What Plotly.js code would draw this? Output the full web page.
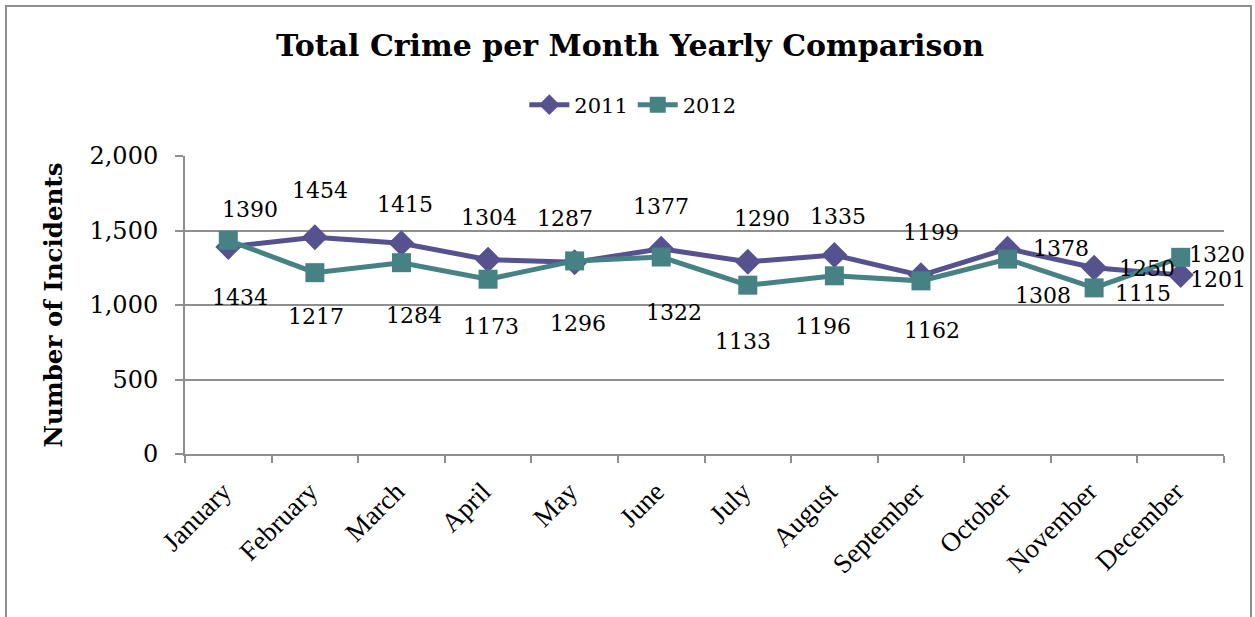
<!DOCTYPE html>
<html>
<head>
<meta charset="utf-8">
<script src="https://cdn.plot.ly/plotly-3.0.1.min.js"></script>
<style>
  html, body { margin:0; padding:0; background:#fff; overflow:hidden; }
  #chart { position:absolute; left:0; top:0; width:1255px; height:617px; }
  #frame { position:absolute; left:5px; top:5px; width:1247px; height:700px;
           border:2px solid #8e8e8e; pointer-events:none; box-sizing:border-box; }
</style>
</head>
<body>
<div id="chart"></div>
<div id="frame"></div>
<script>
const months = ["January","February","March","April","May","June","July","August","September","October","November","December"];
const crimes2011 = [1390,1454,1415,1304,1287,1377,1290,1335,1199,1378,1250,1201];
const crimes2012 = [1434,1217,1284,1173,1296,1322,1133,1196,1162,1308,1115,1320];
const yTicks = [0,500,1000,1500,2000];
const yTickText = ["0","500","1,000","1,500","2,000"];

// label offsets in pixels (dx right, dy down) - layout only
const off2011 = [[22,-37],[5,-47],[4,-39],[1,-42],[-10,-44],[0,-42],[14,-43],[4,-39],[10,-43],[53,0],[53,1],[37,4]];
const off2012 = [[12,57],[1,44],[13,53],[3,47],[3,63],[13,55],[-5,56],[-11,51],[11,50],[35,36],[49,6],[36,-3]];

const c2011 = "#56528f";
const c2012 = "#468284";
const serif = "DejaVu Serif";

const traces = [
  {x: months, y: crimes2011, name: "2011", type: "scatter", mode: "lines+markers",
   line: {color: c2011, width: 5}, marker: {symbol: "diamond", size: 20, color: c2011}},
  {x: months, y: crimes2012, name: "2012", type: "scatter", mode: "lines+markers",
   line: {color: c2012, width: 5}, marker: {symbol: "square", size: 19, color: c2012}}
];

const annotations = [];
months.forEach((m, i) => {
  annotations.push({x: m, y: crimes2011[i], xref: "x", yref: "y", text: String(crimes2011[i]),
    showarrow: false, xshift: off2011[i][0], yshift: -off2011[i][1],
    font: {family: serif, size: 22, color: "#000"}});
  annotations.push({x: m, y: crimes2012[i], xref: "x", yref: "y", text: String(crimes2012[i]),
    showarrow: false, xshift: off2012[i][0], yshift: -off2012[i][1],
    font: {family: serif, size: 22, color: "#000"}});
});

const layout = {
  width: 1255, height: 617,
  margin: {l: 185, r: 31, t: 156, b: 163},
  paper_bgcolor: "#fff", plot_bgcolor: "#fff",
  title: {text: "<b>Total Crime per Month Yearly Comparison</b>", x: 630/1255, xanchor: "center",
          xref: "container", y: 1 - 45/617, yanchor: "middle", yref: "container",
          font: {family: serif, size: 30, color: "#000"}},
  showlegend: true,
  legend: {orientation: "h", x: 0.431, xanchor: "center", y: 1.171, yanchor: "middle",
           font: {family: serif, size: 21, color: "#000"}, itemwidth: 40, traceorder: "normal"},
  xaxis: {type: "category", range: [-0.5, 11.5], tickangle: -45, tickson: "boundaries",
          ticks: "outside", ticklen: 7, tickcolor: "#8e8e8e", tickwidth: 2,
          showline: true, linecolor: "#8e8e8e", linewidth: 2, showgrid: false, zeroline: false,
          ticklabelstandoff: 9, ticklabelshift: -5,
          tickfont: {family: "Liberation Serif", size: 27, color: "#000"}},
  yaxis: {range: [0, 2000], tickvals: yTicks, ticktext: yTickText,
          ticks: "outside", ticklen: 8, tickcolor: "#8e8e8e", tickwidth: 2,
          showline: true, linecolor: "#8e8e8e", linewidth: 2, ticklabelstandoff: 12,
          showgrid: true, gridcolor: "#8e8e8e", gridwidth: 2, zeroline: false,
          tickfont: {family: serif, size: 24, color: "#000"},
          title: {text: "<b>Number of Incidents</b>", standoff: 20,
                  font: {family: serif, size: 24.5, color: "#000"}}},
  annotations: annotations
};

Plotly.newPlot("chart", traces, layout, {displayModeBar: false, staticPlot: true});
</script>
</body>
</html>
